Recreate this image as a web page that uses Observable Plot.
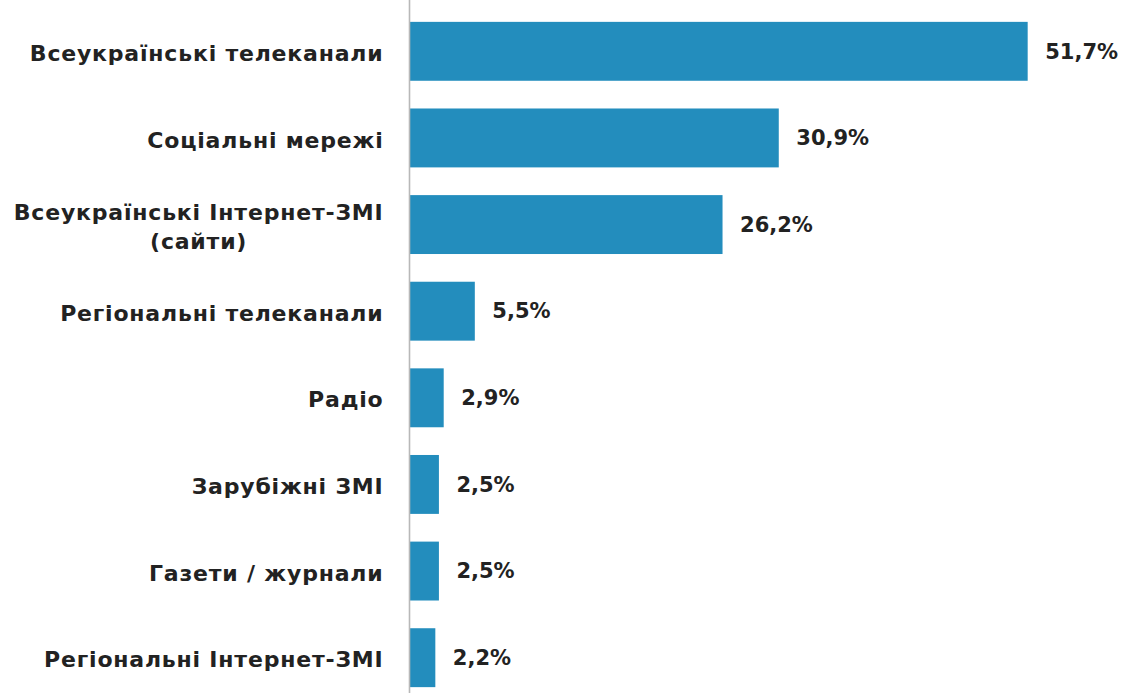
<!DOCTYPE html>
<html>
<head>
<meta charset="utf-8">
<script src="https://cdn.jsdelivr.net/npm/d3@7"></script>
<script src="https://cdn.jsdelivr.net/npm/@observablehq/plot@0.6"></script>
<style>
  html, body { margin: 0; padding: 0; background: #fff; }
  #chart svg { display: block; }
  #chart .cat text { letter-spacing: 0.8px; }
</style>
</head>
<body>
<div id="chart"></div>
<script>
const categories = [
  "Всеукраїнські телеканали",
  "Соціальні мережі",
  "Всеукраїнські Інтернет-ЗМІ\n(сайти)",
  "Регіональні телеканали",
  "Радіо",
  "Зарубіжні ЗМІ",
  "Газети / журнали",
  "Регіональні Інтернет-ЗМІ"
];
const values = [51.7, 30.9, 26.2, 5.5, 2.9, 2.5, 2.5, 2.2];
const valueLabels = ["51,7%", "30,9%", "26,2%", "5,5%", "2,9%", "2,5%", "2,5%", "2,2%"];

const data = categories.map((c, i) => ({category: c, value: values[i], label: valueLabels[i]}));

const FONT = "'DejaVu Sans', sans-serif";

const chart = Plot.plot({
  width: 1128,
  height: 693,
  marginLeft: 409,
  marginRight: 1,
  marginTop: 0,
  marginBottom: 0,
  style: {fontFamily: FONT, background: "#fff"},
  x: {domain: [0, 60], axis: null},
  y: {domain: categories, range: [8, 701], paddingInner: 0.32, paddingOuter: 0.16, round: false, axis: null},
  marks: [
    Plot.barX(data, {y: "category", x: "value", fill: "#238dbd"}),
    Plot.ruleX([0], {stroke: "#b8b8b8", strokeWidth: 1.6, y1: null, y2: null}),
    Plot.text(data, {
      y: "category", x: 0, text: "category", className: "cat",
      textAnchor: "end", dx: -26, lineAnchor: "middle", lineHeight: 1.3,
      fontSize: 22, fontWeight: "bold", fill: "#222"
    }),
    Plot.text(data, {
      y: "category", x: "value", text: "label",
      textAnchor: "start", dx: 17,
      fontSize: 21, fontWeight: "bold", fill: "#222"
    })
  ]
});

document.getElementById("chart").appendChild(chart);

// center the second line of a multi-line category label under the first line
chart.querySelectorAll("text").forEach(t => {
  const spans = t.querySelectorAll("tspan");
  if (spans.length > 1) {
    const w = spans[0].getComputedTextLength();
    t.setAttribute("text-anchor", "middle");
    spans.forEach(s => s.setAttribute("text-anchor", "middle"));
    const tr = t.getAttribute("transform") || "";
    t.setAttribute("transform", tr + ` translate(${-w / 2},0)`);
  }
});
</script>
</body>
</html>
